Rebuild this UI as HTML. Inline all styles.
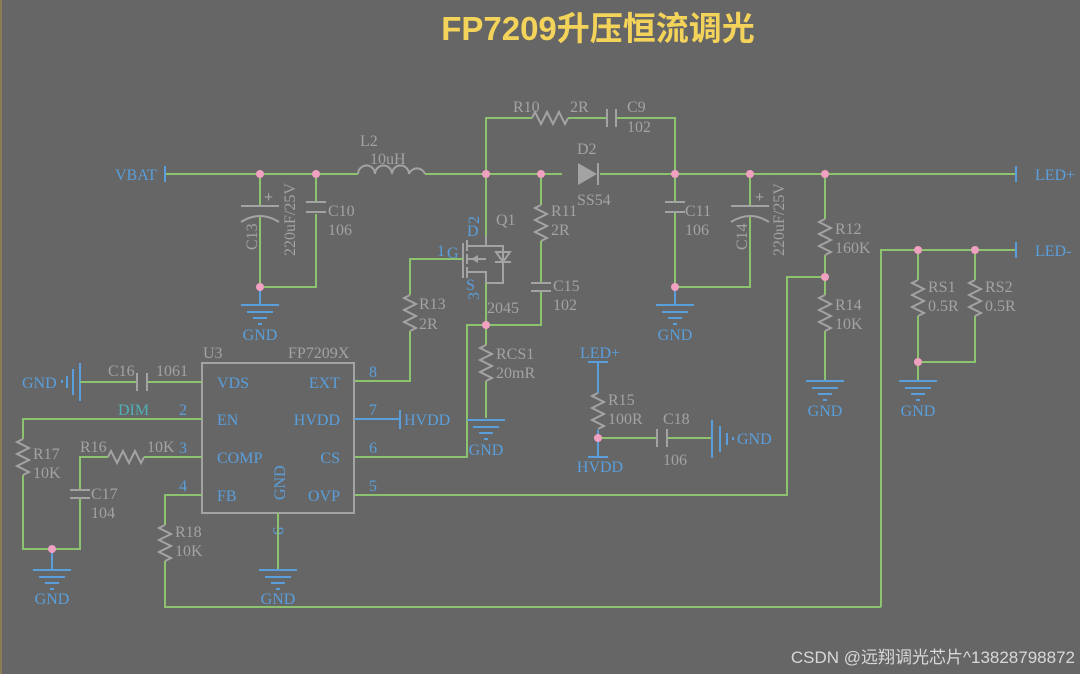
<!DOCTYPE html>
<html><head><meta charset="utf-8"><style>
html,body{margin:0;padding:0;background:#666;}
svg{display:block}
.w{stroke:#8dc26f;stroke-width:2;fill:none}
.b{stroke:#5a9fdc;stroke-width:2;fill:none}
.g{stroke:#a3a3a3;stroke-width:2;fill:none}
.t{font-family:"Liberation Serif",serif;font-size:16px;fill:#a3a3a3}
.n{font-family:"Liberation Serif",serif;font-size:16px;fill:#5a9fdc}
.d{fill:#f0a0c0}
</style></head><body>
<svg width="1080" height="674" viewBox="0 0 1080 674" xmlns="http://www.w3.org/2000/svg">
<defs>
<path id="rv" d="M0,-18 l-6,3 l12,6 l-12,6 l12,6 l-12,6 l12,6 l-6,3" class="g"/>
<path id="rh" d="M-18,0 l3,-6 l6,12 l6,-12 l6,12 l6,-12 l6,12 l3,-6" class="g"/>
<g id="gnd"><path d="M-19,0 h38 M-13,7 h26 M-7,13 h14 M-2,19 h4" class="b"/></g>
</defs>
<rect x="0" y="0" width="2" height="674" fill="#8a7d55"/>
<text x="598" y="40" text-anchor="middle" font-family="Liberation Sans,'Noto Sans CJK SC',sans-serif" font-size="33" font-weight="bold" fill="#f4d35a">FP7209升压恒流调光</text>

<path class="w" d="M165,174 H358 M425,174 H562 M600,174 H1016"/>
<path class="b" d="M165,166 v16 M1016,166 v16"/>
<text class="n" x="115" y="180">VBAT</text>
<text class="n" x="1035" y="180">LED+</text>
<path class="g" d="M358,174 a8.5,8.5 0 0 1 17,0 a8.5,8.5 0 0 1 17,0 a8.5,8.5 0 0 1 17,0 a8.5,8.5 0 0 1 16,0"/>
<text class="t" x="360" y="146">L2</text>
<text class="t" x="370" y="164" font-family="Liberation Sans,sans-serif" font-size="13">10uH</text>

<path class="w" d="M260,174 V206 M260,216 V287 H316 V214 M316,202 V174"/>
<path class="g" d="M241,206 h38 M241,222 q19,-12 38,0 M306,202 h20 M306,212 h20"/>
<text class="t" x="264" y="202" font-family="Liberation Sans,sans-serif" font-size="14" font-weight="bold">+</text>
<text class="t" transform="translate(257,250) rotate(-90)">C13</text>
<text class="t" transform="translate(295,256) rotate(-90)" font-family="Liberation Sans,sans-serif" font-size="13">220uF/25V</text>
<text class="t" x="328" y="216">C10</text><text class="t" x="328" y="235">106</text>
<path class="b" d="M260,287 V305"/><use href="#gnd" x="260" y="305"/>
<text class="n" x="260" y="340" text-anchor="middle">GND</text>

<path class="w" d="M486,174 V118 H532 M568,118 H607 M616,118 H675 V174"/>
<use href="#rh" x="550" y="118"/>
<path class="g" d="M607,109 v18 M616,109 v18"/>
<text class="t" x="513" y="112">R10</text><text class="t" x="570" y="112">2R</text>
<text class="t" x="627" y="112">C9</text><text class="t" x="627" y="132">102</text>

<path d="M578,163 L597,174 L578,185 Z" fill="#a3a3a3"/>
<path class="g" d="M598,163 v22"/>
<text class="t" x="577" y="154">D2</text>
<text class="t" x="577" y="205" font-family="Liberation Sans,sans-serif" font-size="13">SS54</text>

<path class="w" d="M486,174 V236"/>
<path class="g" d="M486,236 V246 H467 M467,240 v11 M467,254 v10 M467,267 v11 M463,243 v35 M467,259 H486 M467,272 H486 V283 M486,246 H503 V283 H486 M495,262 h16 M503,262 l-7,-10 h14 z"/>
<path d="M471,259 l7,-4 v8z" fill="#a3a3a3"/>
<path class="w" d="M486,283 V325"/>
<text class="t" x="496" y="225">Q1</text>
<text class="n" x="437" y="256">1</text><text class="n" x="447" y="258" font-size="11">G</text>
<text class="n" x="467" y="236" font-size="11">D</text><text class="n" x="466" y="290" font-size="11">S</text>
<text class="n" transform="translate(479,224) rotate(-90)" font-size="14">2</text>
<text class="n" transform="translate(479,300) rotate(-90)" font-size="14">3</text>
<text class="t" x="487" y="313">2045</text>
<path class="w" d="M463,259 H410 V295 M410,331 V381 H354"/>
<use href="#rv" x="410" y="313"/>
<text class="t" x="419" y="309">R13</text><text class="t" x="419" y="329">2R</text>
<path class="w" d="M541,174 V205 M541,241 V283 M541,291 V325 H467 V457 H354"/>
<use href="#rv" x="541" y="223"/>
<path class="g" d="M531,283 h20 M531,291 h20"/>
<text class="t" x="551" y="216">R11</text><text class="t" x="551" y="235">2R</text>
<text class="t" x="553" y="291">C15</text><text class="t" x="553" y="310">102</text>
<path class="w" d="M486,325 V345 M486,381 V418"/>
<use href="#rv" x="486" y="363"/>
<use href="#gnd" x="486" y="420"/>
<text class="t" x="496" y="359">RCS1</text><text class="t" x="496" y="378">20mR</text>
<text class="n" x="486" y="455" text-anchor="middle">GND</text>

<path class="w" d="M675,174 V202 M675,212 V287 H750 V216 M750,206 V174"/>
<path class="g" d="M665,202 h20 M665,212 h20 M731,206 h38 M731,222 q19,-12 38,0"/>
<text class="t" x="685" y="216">C11</text><text class="t" x="685" y="235">106</text>
<text class="t" x="755" y="202" font-family="Liberation Sans,sans-serif" font-size="14" font-weight="bold">+</text>
<text class="t" transform="translate(747,250) rotate(-90)">C14</text>
<text class="t" transform="translate(784,256) rotate(-90)" font-family="Liberation Sans,sans-serif" font-size="13">220uF/25V</text>
<path class="b" d="M675,287 V305"/><use href="#gnd" x="675" y="305"/>
<text class="n" x="675" y="340" text-anchor="middle">GND</text>

<path class="w" d="M825,174 V219 M825,255 V295 M825,331 V381"/>
<use href="#rv" x="825" y="237"/><use href="#rv" x="825" y="313"/>
<use href="#gnd" x="825" y="381"/>
<text class="t" x="835" y="234">R12</text><text class="t" x="835" y="253">160K</text>
<text class="t" x="835" y="310">R14</text><text class="t" x="835" y="329">10K</text>
<text class="n" x="825" y="416" text-anchor="middle">GND</text>
<path class="w" d="M354,495 H787 V277 H825"/>

<path class="w" d="M881,607 V250 H1016 M918,250 V280 M918,316 V381 M975,250 V280 M975,316 V362 H918"/>
<path class="b" d="M1016,242 v16"/>
<use href="#rv" x="918" y="298"/><use href="#rv" x="975" y="298"/>
<use href="#gnd" x="918" y="381"/>
<text class="t" x="928" y="292">RS1</text><text class="t" x="928" y="311">0.5R</text>
<text class="t" x="985" y="292">RS2</text><text class="t" x="985" y="311">0.5R</text>
<text class="n" x="918" y="416" text-anchor="middle">GND</text>
<text class="n" x="1035" y="256">LED-</text>

<path class="b" d="M588,362 h20 M598,362 V393 M598,430 V457 M588,457 h20"/>
<use href="#rv" x="598" y="411"/>
<path class="w" d="M598,438 H657 M667,438 H712"/>
<path class="g" d="M657,429 v18 M667,429 v18"/>
<path class="b" d="M712,420 v38 M720,426 v26 M727,433 v12 M733,437 v3"/>
<text class="n" x="600" y="358" text-anchor="middle">LED+</text>
<text class="n" x="600" y="472" text-anchor="middle">HVDD</text>
<text class="t" x="608" y="405">R15</text><text class="t" x="608" y="424">100R</text>
<text class="t" x="663" y="424">C18</text><text class="t" x="663" y="465">106</text>
<text class="n" x="737" y="444">GND</text>

<rect x="202" y="363" width="152" height="150" class="g"/>
<text class="t" x="203" y="358">U3</text><text class="t" x="288" y="358">FP7209X</text>
<text class="n" x="217" y="388">VDS</text><text class="n" x="217" y="425">EN</text>
<text class="n" x="217" y="463">COMP</text><text class="n" x="217" y="501">FB</text>
<text class="n" x="340" y="388" text-anchor="end">EXT</text><text class="n" x="340" y="425" text-anchor="end">HVDD</text>
<text class="n" x="340" y="463" text-anchor="end">CS</text><text class="n" x="340" y="501" text-anchor="end">OVP</text>
<text class="n" transform="translate(285,500) rotate(-90)">GND</text>
<text class="n" x="369" y="377">8</text><text class="n" x="369" y="415">7</text>
<text class="n" x="369" y="453">6</text><text class="n" x="369" y="491">5</text>
<text class="n" x="179" y="415">2</text><text class="n" x="179" y="453">3</text><text class="n" x="179" y="491">4</text>
<text class="n" transform="translate(273,527) rotate(90)">9</text>
<path class="b" d="M354,419 H400 M400,410 v19"/>
<text class="n" x="404" y="425">HVDD</text>
<path class="w" d="M278,513 V570"/><use href="#gnd" x="278" y="570"/>
<text class="n" x="278" y="604" text-anchor="middle">GND</text>
<path class="b" d="M80,363 v38 M73,369 v26 M67,376 v12 M62,380 v3"/>
<path class="w" d="M80,382 H137 M147,382 H202"/>
<path class="g" d="M137,373 v18 M147,373 v18"/>
<text class="n" x="22" y="388">GND</text>
<text class="t" x="108" y="376">C16</text><text class="t" x="156" y="376">1061</text>
<path class="w" d="M202,419 H23 V439 M23,475 V549 H80 V498 M80,490 V457 H108 M144,457 H202"/>
<use href="#rv" x="23" y="457"/><use href="#rh" x="126" y="457"/>
<path class="g" d="M70,490 h20 M70,498 h20"/>
<text x="118" y="415" font-family="Liberation Serif,serif" font-size="16" fill="#4fb0b8">DIM</text>
<text class="t" x="33" y="459">R17</text><text class="t" x="33" y="478">10K</text>
<text class="t" x="80" y="452">R16</text><text class="t" x="147" y="452">10K</text>
<text class="t" x="91" y="499">C17</text><text class="t" x="91" y="518">104</text>
<path class="b" d="M52,549 V570"/><use href="#gnd" x="52" y="570"/>
<text class="n" x="52" y="604" text-anchor="middle">GND</text>
<path class="w" d="M202,495 H165 V525 M165,561 V607 H881"/>
<use href="#rv" x="165" y="543"/>
<text class="t" x="175" y="537">R18</text><text class="t" x="175" y="556">10K</text>

<g class="d">
<circle cx="260" cy="174" r="4"/><circle cx="316" cy="174" r="4"/><circle cx="486" cy="174" r="4"/>
<circle cx="541" cy="174" r="4"/><circle cx="675" cy="174" r="4"/><circle cx="750" cy="174" r="4"/>
<circle cx="825" cy="174" r="4"/><circle cx="260" cy="287" r="4"/><circle cx="675" cy="287" r="4"/>
<circle cx="486" cy="325" r="4"/><circle cx="825" cy="277" r="4"/><circle cx="918" cy="250" r="4"/>
<circle cx="975" cy="250" r="4"/><circle cx="918" cy="362" r="4"/><circle cx="598" cy="438" r="4"/>
<circle cx="52" cy="549" r="4"/>
</g>
<text x="1075" y="663" text-anchor="end" font-family="Liberation Sans,'Noto Sans CJK SC',sans-serif" font-size="17" fill="#d8d8d8">CSDN @远翔调光芯片^13828798872</text>
</svg>
</body></html>
